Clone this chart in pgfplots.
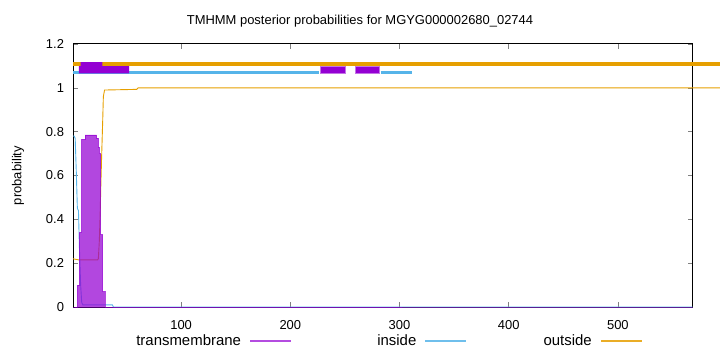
\documentclass[border=0pt]{standalone}
\usepackage{fontspec}
\setmainfont{Liberation Sans}
\usepackage{pgfplots}
\pgfplotsset{compat=1.18}
\definecolor{tmc}{HTML}{9400D3}
\definecolor{inc}{HTML}{56B4E9}
\definecolor{outc}{HTML}{E69F00}
\begin{document}
\begin{tikzpicture}[font=\fontsize{13}{15}\selectfont]
\useasboundingbox (-73bp,-45bp) rectangle (647bp,307bp);
\begin{axis}[
  at={(0,0)}, anchor=south west,
  scale only axis, width=619.7bp, height=263bp,
  xmin=1, xmax=568.5, ymin=0, ymax=1.2,
  xtick={100,200,300,400,500},
  ytick={0,0.2,0.4,0.6,0.8,1,1.2},
  /pgf/number format/assume math mode=true,
  tick align=inside, major tick length=5bp,
  every tick/.style={gray, line width=0.6bp},
  axis line style={line width=1bp},
  x tick label style={yshift=-10bp},
  y tick label style={xshift=-5.5bp},
  clip=false,
  legend columns=3,
  legend plot pos=right,
  legend style={draw=none, fill=none, font=\fontsize{15}{17}\selectfont,
    at={(axis description cs:0.506,0)}, anchor=center, yshift=-34bp,
    /tikz/every even column/.append style={column sep=17bp}},
]
\addlegendimage{legend image code/.code={\path (0bp,0bp); \fill[tmc!70] (7bp,-0.45bp) rectangle (47bp,0.45bp);}}
\addlegendentry{\makebox[107bp][r]{transmembrane}}
\addlegendimage{legend image code/.code={\path (0bp,0bp); \fill[inc!85] (7bp,-0.45bp) rectangle (47bp,0.45bp);}}
\addlegendentry{\makebox[107bp][r]{inside}}
\addlegendimage{legend image code/.code={\path (0bp,0bp); \fill[outc!85] (7bp,-0.45bp) rectangle (47bp,0.45bp);}}
\addlegendentry{\makebox[107bp][r]{outside}}

% predicted topology bars
\addplot[outc, line width=4bp, forget plot] coordinates {(1,1.11) (593.6,1.11)};
\addplot[inc, line width=3.3bp, forget plot] coordinates {(1,1.07) (226.6,1.07)};
\addplot[inc, line width=3.3bp, forget plot] coordinates {(282.6,1.07) (311.9,1.07)};
\addplot[fill=tmc, draw=none, forget plot] coordinates {(6.4,1.066) (52.3,1.066) (52.3,1.099) (27.8,1.099) (27.8,1.117) (7.9,1.117) (7.9,1.099) (6.4,1.099)} -- cycle;
\addplot[fill=tmc, draw=tmc!55, line width=0.6bp, forget plot] coordinates {(227.5,1.066) (250.5,1.066) (250.5,1.099) (227.5,1.099)} -- cycle;
\addplot[fill=tmc, draw=tmc!55, line width=0.6bp, forget plot] coordinates {(259.6,1.066) (281.7,1.066) (281.7,1.099) (259.6,1.099)} -- cycle;

% outside probability
\addplot[outc, line width=0.9bp, forget plot] coordinates {
(1,0.22) (3,0.218) (6,0.215) (23.5,0.215) (24.2,0.22) (25.1,0.30) (26,0.45) (26.4,0.54) (27.3,0.70) (28.2,0.85) (28.8,0.96) (29.9,0.99) (59.4,0.993) (60.6,1.0) (568.5,1.0) (593.6,1.0)};

% inside probability
\addplot[inc, line width=0.9bp, forget plot] coordinates {
(1,0.78) (2,0.78) (3,0.77) (4,0.62) (5,0.45) (6,0.44) (7,0.25) (8,0.10) (9,0.02) (10,0.01) (37,0.01) (38,0) (568.5,0)};

% transmembrane probability
\addplot[const plot, fill=tmc, fill opacity=0.72, draw=tmc, draw opacity=0.7, line width=0.5bp, forget plot] coordinates {
(1,0) (4.9,0.10) (6.8,0.34) (9,0.765) (12,0.785) (22.7,0.77) (24.2,0.73) (25.1,0.70) (26.4,0.33) (28.2,0.07) (30.1,0) (568.5,0)} \closedcycle;
\end{axis}
\node at (287bp,286bp) {TMHMM posterior probabilities for MGYG000002680\_02744};
\node[rotate=90] at (-55bp,131.5bp) {probability};
\end{tikzpicture}
\end{document}
